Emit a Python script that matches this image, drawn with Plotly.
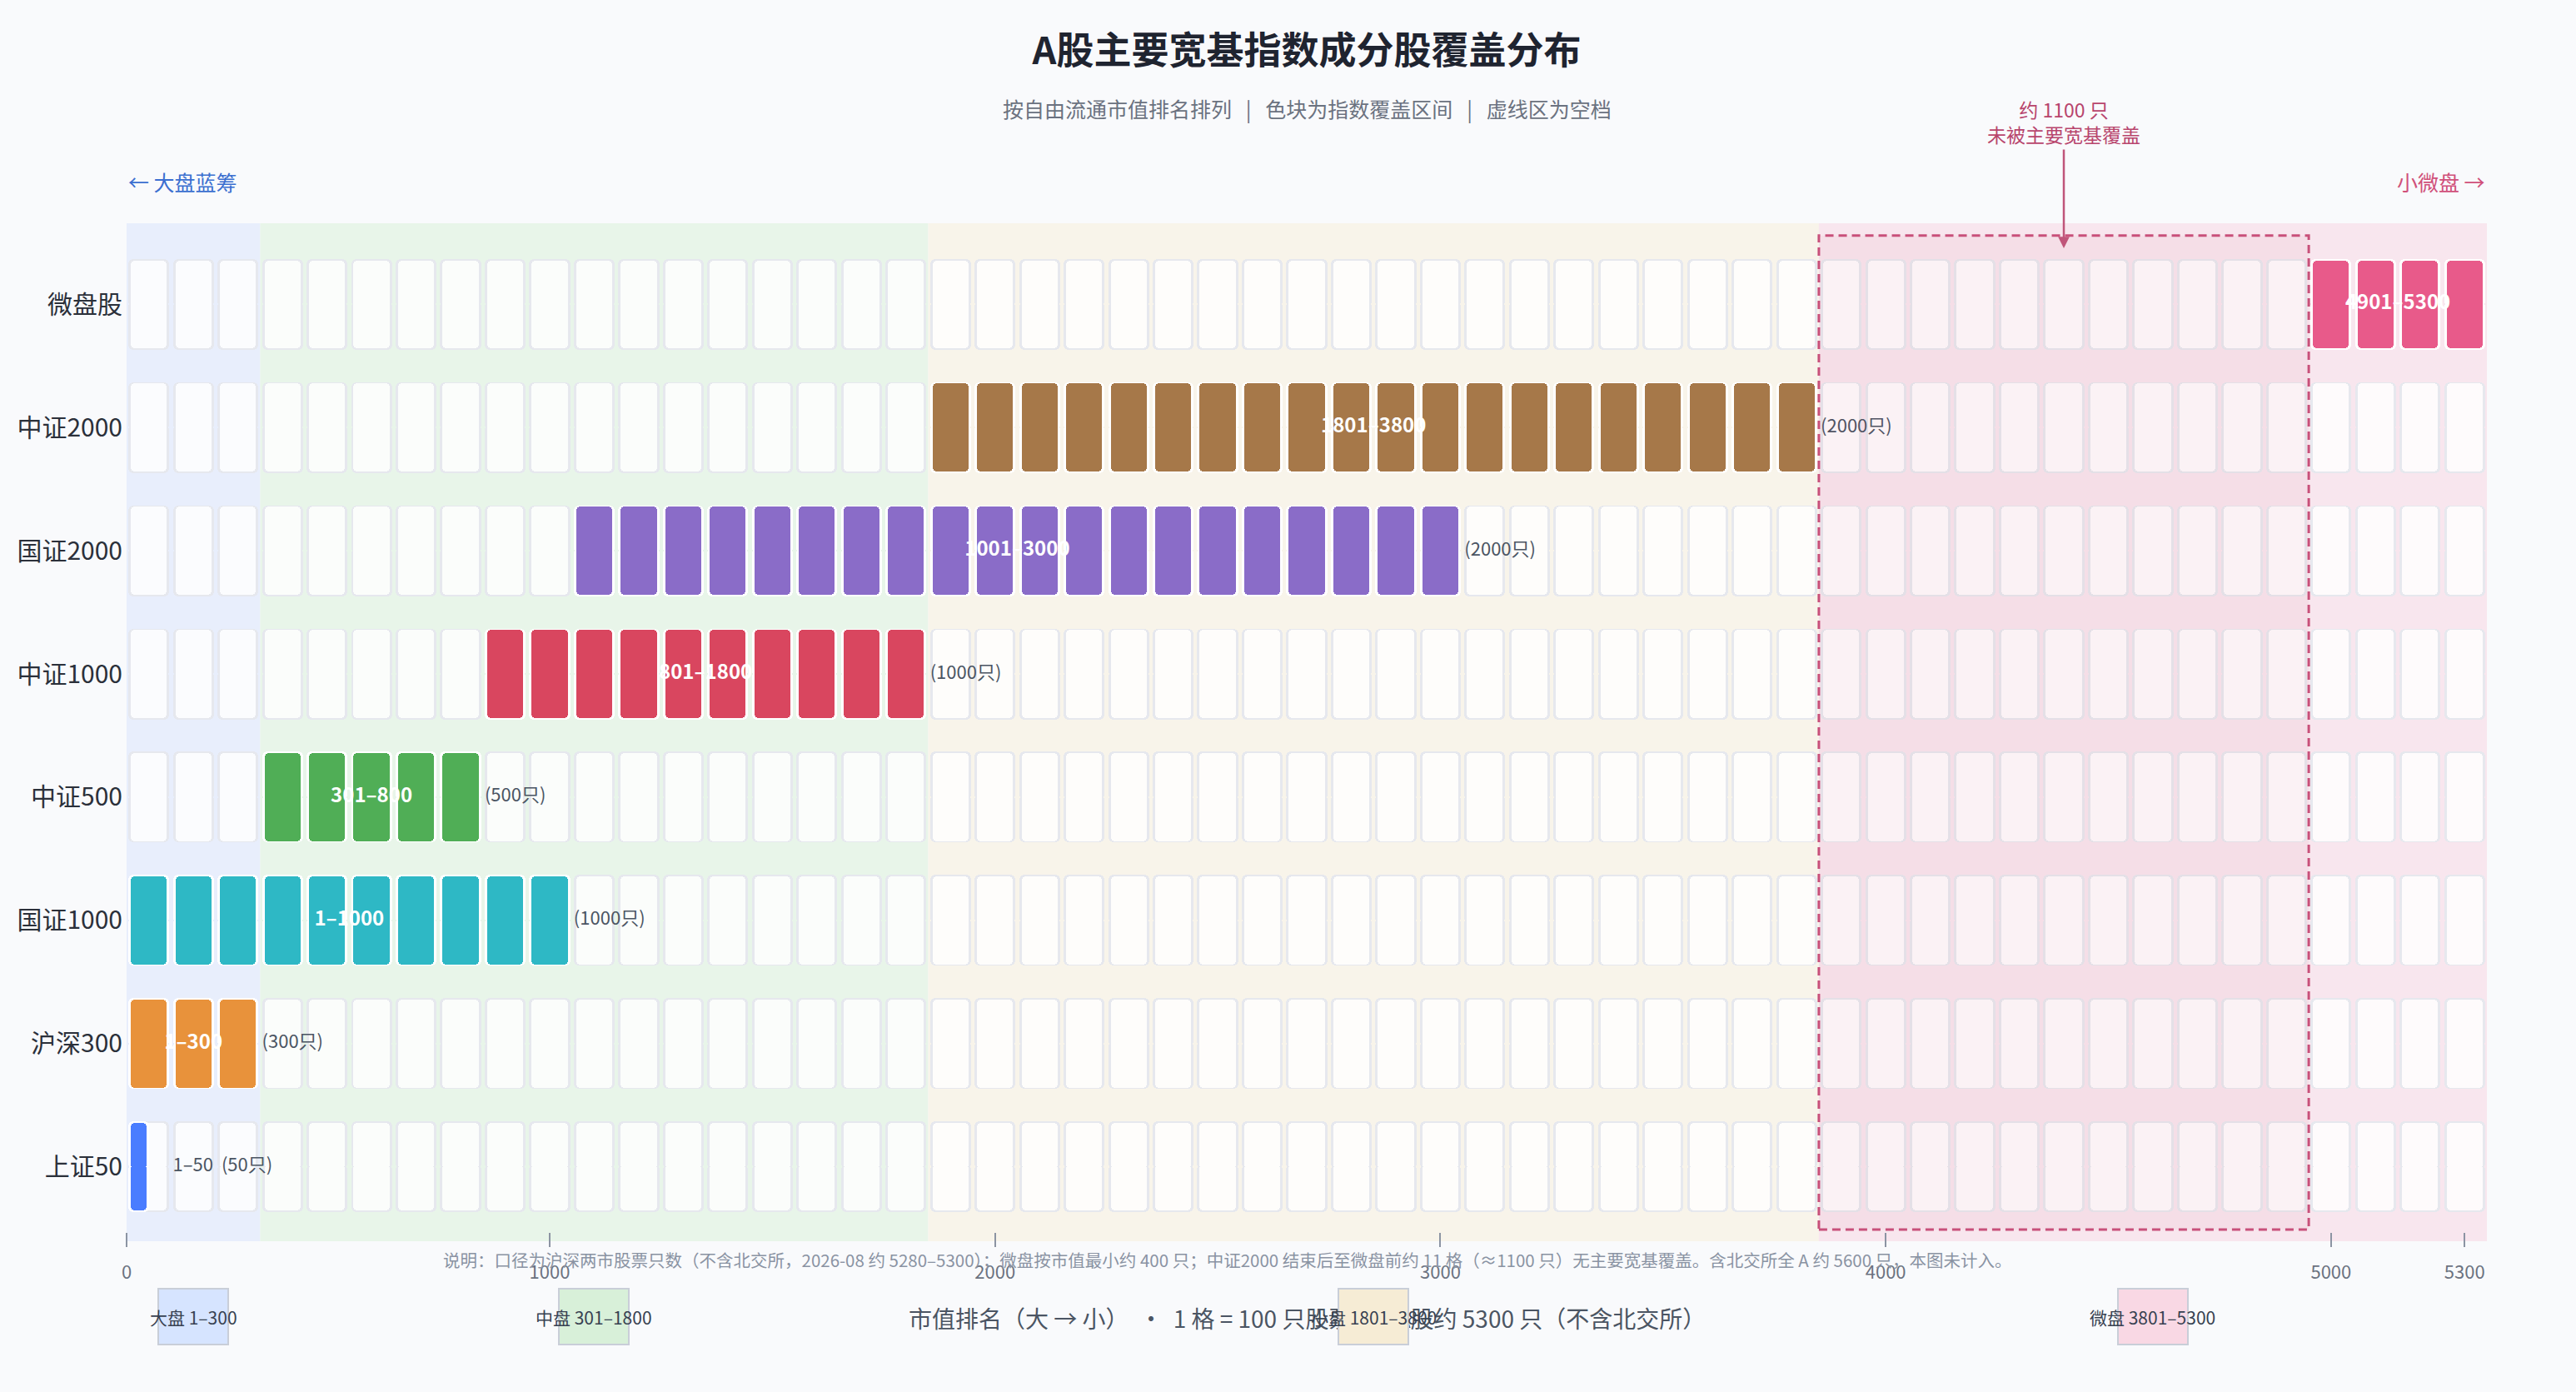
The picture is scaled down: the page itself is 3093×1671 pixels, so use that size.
import math
import plotly.graph_objects as go

# ---- data ----
index_names = ["上证50", "沪深300", "国证1000", "中证500", "中证1000", "国证2000", "中证2000", "微盘股"]
rank_start = [1, 1, 1, 301, 801, 1001, 1801, 4901]
rank_end = [50, 300, 1000, 800, 1800, 3000, 3800, 5300]
index_colors = ["#4A7DFF", "#E8923B", "#2EB8C5", "#50AE56", "#D9465F", "#8A6CC8", "#A67849", "#E85A8A"]

tier_names = ["大盘 1–300", "中盘 301–1800", "小盘 1801–3800", "微盘 3801–5300"]
tier_start = [1, 301, 1801, 3801]
tier_end = [300, 1800, 3800, 5300]
tier_band = ["#E8EEFC", "#E8F5E9", "#F8F4EA", "#F8E6EE"]
tier_box = ["#D6E4FF", "#D8F0D9", "#F6ECD5", "#F9D8E4"]

tick_ranks = [0, 1000, 2000, 3000, 4000, 5000, 5300]
TOTAL = 5300
PER_CELL = 100

FONT = "Noto Sans CJK SC"
W, H = 3093, 1671
M_L, M_R, M_T, M_B = 152, 107, 268, 192
PLOT_H = H - M_T - M_B

n_cells = TOTAL // PER_CELL
gap_start = rank_end[6] + 1
gap_end = rank_start[7] - 1
gap_cells = (gap_end - gap_start + 1) // PER_CELL

CELL_W = 0.92
HALF_H = 0.3686
INSET_X = 0.056
INSET_Y = 0.011


def edge(rank):
    # boundary after `rank` stocks, in cell units
    return rank / PER_CELL - 0.5


def py(px):
    # pixel row -> paper y
    return (H - M_B - px) / PLOT_H


def blend(hex_color, a):
    h = hex_color.lstrip("#")
    r, g, b = (int(h[i:i + 2], 16) for i in (0, 2, 4))
    r, g, b = (round(255 * (1 - a) + c * a) for c in (r, g, b))
    return f"rgb({r},{g},{b})"


def half_bars(xs, ys, widths, half, colors, radius):
    # two half-height bars per cell so all four corners get rounded
    eps = 0.02
    out = []
    for sgn in (1, -1):
        out.append(go.Bar(
            x=xs, y=[sgn * (half + eps)] * len(xs),
            base=[y - sgn * eps for y in ys], width=widths,
            marker=dict(color=colors, cornerradius=radius, line_width=0),
            hoverinfo="skip", showlegend=False))
    return out


def tier_of(c):
    for i in range(len(tier_start)):
        if tier_start[i] - 1 <= c * PER_CELL < tier_end[i]:
            return i
    return len(tier_start) - 1


# empty grid
ex, ey, ecol = [], [], []
for r in range(len(index_names)):
    for c in range(n_cells):
        ex.append(c)
        ey.append(r)
        ecol.append(blend(tier_band[tier_of(c)], 0.18))

# covered cells
cx, cy, cw, ccol = [], [], [], []
for r in range(len(index_names)):
    s, e = rank_start[r], rank_end[r]
    for c in range(n_cells):
        lo = max(s - 1, c * PER_CELL)
        hi = min(e, (c + 1) * PER_CELL)
        if hi <= lo:
            continue
        frac = (hi - lo) / PER_CELL
        off = (lo - c * PER_CELL) / PER_CELL
        cx.append(c - CELL_W / 2 + CELL_W * (off + frac / 2))
        cy.append(r)
        cw.append(CELL_W * frac)
        ccol.append(index_colors[r])

traces = []
traces += half_bars(ex, ey, CELL_W, HALF_H, "#E6E8EE", 6)
traces += half_bars(ex, ey, CELL_W - 2 * INSET_X, HALF_H - INSET_Y, ecol, 5)
traces += half_bars(cx, cy, cw, HALF_H, "#FFFFFF", 6)
traces += half_bars(cx, cy, [max(w - 2 * INSET_X, 0.05) for w in cw], HALF_H - INSET_Y, ccol, 5)

# labels
in_x, in_y, in_t = [], [], []
out_x, out_y, out_t = [], [], []
for r in range(len(index_names)):
    s, e = rank_start[r], rank_end[r]
    n = e - s + 1
    end_x = math.ceil(e / PER_CELL) - 0.5 + 0.04
    if n >= 2 * PER_CELL:
        in_x.append((edge(s - 1) + edge(e)) / 2)
        in_y.append(r)
        in_t.append(f"<b>{s}–{e}</b>")
        out_t.append(f"({n}只)")
    else:
        out_t.append(f"{s}–{e}  ({n}只)")
    out_x.append(end_x)
    out_y.append(r)

traces.append(go.Scatter(x=in_x, y=in_y, text=in_t, mode="text", textposition="middle center",
                         textfont=dict(family=FONT, size=24, color="#FFFFFF"),
                         hoverinfo="skip", showlegend=False, cliponaxis=False))
traces.append(go.Scatter(x=out_x, y=out_y, text=out_t, mode="text", textposition="middle right",
                         textfont=dict(family=FONT, size=22, color="#4B5563"),
                         hoverinfo="skip", showlegend=False, cliponaxis=False))

fig = go.Figure(data=traces)

shapes = []
for i in range(len(tier_names)):
    shapes.append(dict(type="rect", xref="x", yref="paper",
                       x0=edge(tier_start[i] - 1), x1=edge(tier_end[i]),
                       y0=-11 / PLOT_H, y1=1, fillcolor=tier_band[i],
                       line_width=0, layer="below"))
shapes.append(dict(type="rect", xref="x", yref="y",
                   x0=edge(gap_start - 1), x1=edge(gap_end), y0=-0.51, y1=7.56,
                   fillcolor="rgba(200,70,110,0.05)",
                   line=dict(color="#C8507A", width=3, dash="10px,6px"), layer="above"))

gap_mid = (edge(gap_start - 1) + edge(gap_end)) / 2
annotations = [
    dict(text="按自由流通市值排名排列   |   色块为指数覆盖区间   |   虚线区为空档",
         xref="paper", yref="paper", x=0.5, y=py(130), yanchor="middle", showarrow=False,
         font=dict(family=FONT, size=25, color="#6B7280")),
    dict(text="← 大盘蓝筹", xref="paper", yref="paper", x=0, y=py(218), xanchor="left",
         yanchor="middle", showarrow=False, font=dict(family=FONT, size=25, color="#3B6FD0")),
    dict(text="小微盘 →", xref="paper", yref="paper", x=1, y=py(218), xanchor="right",
         yanchor="middle", showarrow=False, font=dict(family=FONT, size=25, color="#D0507A")),
    dict(text=f"约 {gap_end - gap_start + 1} 只<br>未被主要宽基覆盖", x=gap_mid, y=7.456,
         xref="x", yref="y", showarrow=True, ax=0, ay=-152, arrowhead=2, arrowsize=1.1,
         arrowwidth=2.5, arrowcolor="#C0557A",
         font=dict(family=FONT, size=23, color="#B8456D")),
    dict(text="说明：口径为沪深两市股票只数（不含北交所，2026-08 约 5280–5300）；微盘按市值最小约 400 只；"
              f"中证2000 结束后至微盘前约 {gap_cells} 格（≈{gap_cells * PER_CELL} 只）无主要宽基覆盖。"
              "含北交所全 A 约 5600 只，本图未计入。",
         xref="paper", yref="paper", x=(530 - M_L) / (W - M_L - M_R), y=py(1512), xanchor="left",
         yanchor="middle", showarrow=False, font=dict(family=FONT, size=20.5, color="#8A93A3")),
    dict(text=f"市值排名（大 → 小）  ·  1 格 = {PER_CELL} 只股票  ·  A股约 {TOTAL} 只（不含北交所）",
         xref="paper", yref="paper", x=0.5, y=py(1582), yanchor="middle", showarrow=False,
         font=dict(family=FONT, size=28, color="#4B5563")),
]
# tier key: fixed-size swatch boxes, then the labels on top
for i in range(len(tier_names)):
    annotations.append(dict(
        text=" ", xref="x", yref="paper",
        x=(edge(tier_start[i] - 1) + edge(tier_end[i])) / 2, y=py(1580.5), yanchor="middle",
        showarrow=False, width=80, height=63, bgcolor=tier_box[i],
        bordercolor="#C9CED8", borderwidth=2, borderpad=1, font=dict(size=10)))
for i in range(len(tier_names)):
    annotations.append(dict(
        text=tier_names[i], xref="x", yref="paper",
        x=(edge(tier_start[i] - 1) + edge(tier_end[i])) / 2, y=py(1581), yanchor="middle",
        showarrow=False, font=dict(family=FONT, size=21, color="#374151")))

fig.update_layout(
    width=W, height=H,
    margin=dict(l=M_L, r=M_R, t=M_T, b=M_B),
    paper_bgcolor="#F9FAFC", plot_bgcolor="rgba(0,0,0,0)",
    barmode="overlay", bargap=0,
    font=dict(family=FONT),
    title=dict(text="<b>A股主要宽基指数成分股覆盖分布</b>", x=0.5, xref="paper",
               y=1 - 61 / H, yref="container", yanchor="middle", xanchor="center",
               font=dict(family=FONT, size=45, color="#1F2430")),
    shapes=shapes, annotations=annotations,
    xaxis=dict(range=[-0.5, n_cells - 0.5], showgrid=False, zeroline=False, showline=False,
               tickvals=[-0.5 if t == 0 else t / PER_CELL - 1 for t in tick_ranks],
               ticktext=[str(t) for t in tick_ranks],
               ticks="outside", ticklen=17, tickwidth=2, tickcolor="#8C94A3",
               tickfont=dict(family=FONT, size=22, color="#6B7280"), ticklabelstandoff=12),
    yaxis=dict(range=[-0.531, 7.659], showgrid=False, zeroline=False, showline=False,
               tickvals=list(range(len(index_names))), ticktext=index_names, ticks="",
               tickfont=dict(family=FONT, size=30, color="#2B303A"), ticklabelstandoff=4),
)

fig.write_html("out.html", config={"displayModeBar": False},
               post_script="document.body.style.margin = '0';")
